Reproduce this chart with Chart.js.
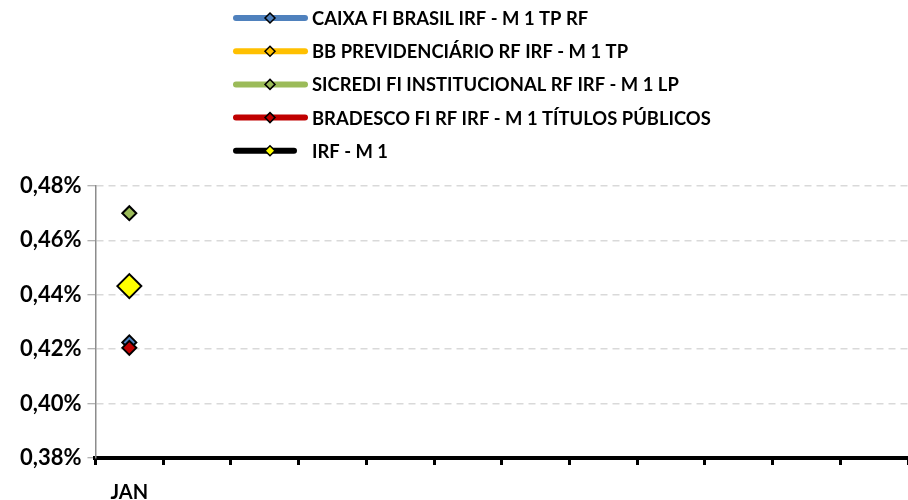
<!DOCTYPE html>
<html>
<head>
<meta charset="utf-8">
<script src="https://cdn.jsdelivr.net/npm/chart.js@4.4.1/dist/chart.umd.min.js"></script>
<style>
    html, body { margin: 0; padding: 0; background: #fff; overflow: hidden; }
    #wrap { width: 908px; height: 500px; position: relative; }
</style>
</head>
<body>
<div id="wrap"><canvas id="chart"></canvas></div>
<script>
// months (only JAN has data)
var months = ['JAN', '', '', '', '', '', '', '', '', '', '', ''];

var seriesNames = [
    'CAIXA FI BRASIL IRF - M 1 TP RF',
    'BB PREVIDENCIÁRIO RF IRF - M 1 TP',
    'SICREDI FI INSTITUCIONAL RF IRF - M 1 LP',
    'BRADESCO FI RF IRF - M 1 TÍTULOS PÚBLICOS',
    'IRF - M 1'
];

// monthly return, %
var caixaValues    = [0.4225, null, null, null, null, null, null, null, null, null, null, null];
var bbValues       = [0.4430, null, null, null, null, null, null, null, null, null, null, null];
var sicrediValues  = [0.4700, null, null, null, null, null, null, null, null, null, null, null];
var bradescoValues = [0.4205, null, null, null, null, null, null, null, null, null, null, null];
var irfValues      = [0.4432, null, null, null, null, null, null, null, null, null, null, null];

var yTicks = [0.38, 0.40, 0.42, 0.44, 0.46, 0.48];

(function(){
    var lineColors   = ['#4f81bd', '#ffc000', '#9bbb59', '#c00000', '#000000'];
    var markerColors = ['#4f81bd', '#ffc000', '#9bbb59', '#c00000', '#ffff00'];
    var markerSizes  = [7, 7, 7, 7, 12];
    var drawOrder    = [4, 3, 5, 2, 1];
    var values = [caixaValues, bbValues, sicrediValues, bradescoValues, irfValues];
    var fontFamily = 'Lato, "Open Sans", sans-serif';

    var datasets = [];
    for( var i = 0; i < values.length; i++ ){
        datasets.push({
            label: seriesNames[i],
            data: values[i],
            borderColor: lineColors[i],
            borderWidth: 5,
            backgroundColor: markerColors[i],
            pointStyle: 'rectRot',
            pointRadius: markerSizes[i],
            pointHoverRadius: markerSizes[i],
            pointBorderColor: '#000',
            pointBorderWidth: 2,
            pointBackgroundColor: markerColors[i],
            order: drawOrder[i]
        });
    }

    // legend drawn by hand: thick line + diamond, one per row
    var legendPlugin = {
        id: 'rowLegend',
        afterDraw: function(chart){
            var ctx = chart.ctx;
            var ds = chart.data.datasets;
            ctx.save();
            for( var i = 0; i < ds.length; i++ ){
                var y = 18 + i * 33.2;
                var x0 = 236, x1 = (i === 4) ? 294 : 305;
                ctx.lineCap = 'round';
                ctx.lineWidth = 6;
                ctx.strokeStyle = ds[i].borderColor;
                ctx.beginPath();
                ctx.moveTo(x0, y);
                ctx.lineTo(x1, y);
                ctx.stroke();

                var cx = 270, r = 5;
                ctx.beginPath();
                ctx.moveTo(cx, y - r);
                ctx.lineTo(cx + r, y);
                ctx.lineTo(cx, y + r);
                ctx.lineTo(cx - r, y);
                ctx.closePath();
                ctx.fillStyle = ds[i].pointBackgroundColor;
                ctx.fill();
                ctx.lineWidth = 1.5;
                ctx.strokeStyle = '#000';
                ctx.stroke();

                ctx.fillStyle = '#000';
                ctx.font = 'bold 18.4px ' + fontFamily;
                ctx.textBaseline = 'middle';
                ctx.textAlign = 'left';
                ctx.fillText(ds[i].label, 312, y + 1);
            }
            ctx.restore();
        }
    };

    new Chart(document.getElementById('chart'), {
        type: 'line',
        data: {
            labels: months,
            datasets: datasets
        },
        options: {
            responsive: true,
            maintainAspectRatio: false,
            animation: false,
            layout: {
                autoPadding: false,
                padding: { top: 186, right: 0, left: 14, bottom: -21 }
            },
            plugins: {
                legend: { display: false },
                tooltip: { enabled: false }
            },
            scales: {
                x: {
                    offset: true,
                    grid: {
                        display: true,
                        drawOnChartArea: false,
                        drawTicks: true,
                        tickLength: 7,
                        tickWidth: 3,
                        tickColor: '#000',
                        offset: true
                    },
                    border: { display: true, color: '#000', width: 4 },
                    ticks: {
                        color: '#000',
                        padding: 16,
                        maxRotation: 0,
                        autoSkip: false,
                        font: { family: fontFamily, size: 20, weight: 'bold' }
                    }
                },
                y: {
                    min: 0.38,
                    max: 0.48,
                    afterBuildTicks: function(axis){
                        axis.ticks = yTicks.map(function(v){ return { value: v }; });
                    },
                    grid: {
                        color: '#d9d9d9',
                        lineWidth: 1.5,
                        drawTicks: true,
                        tickLength: 8,
                        tickColor: '#9a9a9a',
                        tickWidth: 1
                    },
                    border: { display: true, color: '#8c8c8c', width: 1.5, dash: [7, 5] },
                    ticks: {
                        color: '#000',
                        padding: 6,
                        font: { family: fontFamily, size: 22, weight: 'bold' },
                        callback: function(v){
                            return Number(v).toFixed(2).replace('.', ',') + '%';
                        }
                    }
                }
            }
        },
        plugins: [legendPlugin]
    });
})();
</script>
</body>
</html>
